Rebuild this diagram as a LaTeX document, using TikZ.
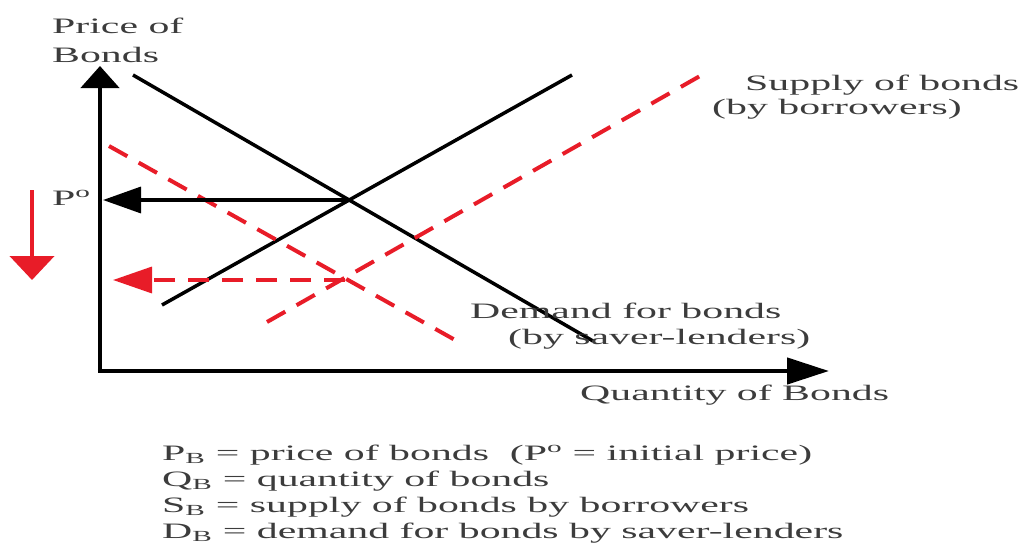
\documentclass[tikz,border=0pt]{standalone}
\usepackage{fontspec}
\setmainfont[FakeStretch=1.9]{Liberation Serif}
\usetikzlibrary{arrows.meta}
\definecolor{shiftred}{RGB}{232,28,40}
\definecolor{txt}{RGB}{60,60,60}
\tikzset{
  lbl/.style={anchor=base west, inner sep=0pt, text=txt, font=\fontsize{22}{26}\selectfont},
  axis/.style={line width=4.5pt, -{Triangle[length=22pt,width=38pt]}},
  curve/.style={line width=3.5pt, black},
  shifted/.style={line width=4pt, shiftred, dash pattern=on 21pt off 13pt},
}
\begin{document}
\begin{tikzpicture}[x=1pt,y=-1pt]
\useasboundingbox (0,0) rectangle (1035,554);
% axes
\coordinate (O) at (100,371);
\coordinate (Ytop) at (100,66);
\coordinate (Xend) at (829,371);
\draw[axis] (O) -- (Ytop);
\draw[line width=4.5pt, -{Triangle[length=42pt,width=26pt]}] (97.75,371) -- (Xend);
% original curves
\coordinate (D1) at (133,75);
\coordinate (D2) at (593,341);
\coordinate (S1) at (162,305);
\coordinate (S2) at (572,75);
\draw[curve] (D1) -- (D2);
\draw[curve] (S1) -- (S2);
% shifted curves
\coordinate (Dr1) at (109,146);
\coordinate (Dr2) at (464,345);
\coordinate (Sr1) at (267,322);
\coordinate (Sr2) at (700,76);
\draw[shifted] (Dr1) -- (Dr2);
\draw[shifted] (Sr1) -- (Sr2);
% equilibrium arrows
\coordinate (E0) at (350,200);
\coordinate (P0) at (103,200);
\draw[line width=3.5pt, -{Triangle[length=38pt,width=26pt]}] (E0) -- (P0);
\coordinate (E1) at (345,280);
\coordinate (P1) at (113,280);
\draw[line width=3.5pt, shiftred, dash pattern=on 21pt off 13pt, -{Triangle[length=39pt,width=26pt]}] (E1) -- (P1);
% red down arrow
\coordinate (R1) at (32,190);
\coordinate (R2) at (32,280);
\draw[line width=4.5pt, shiftred, -{Triangle[length=24pt,width=44pt]}] (R1) -- (R2);
% labels
\node[lbl] (yl1) at (52,33) {Price of};
\node[lbl] (yl2) at (52,62) {Bonds};
\node[lbl] (p0) at (52,205) {P\textsuperscript{o}};
\node[lbl] (s1) at (745,90) {Supply of bonds};
\node[lbl] (s2) at (712,114) {(by borrowers)};
\node[lbl] (d1) at (470,318) {Demand for bonds};
\node[lbl] (d2) at (508,344) {(by saver-lenders)};
\node[lbl] (xl) at (580,400) {Quantity of Bonds};
% legend
\node[lbl] (l1) at (162,460) {P\textsubscript{B} = price of bonds\ \ (P\textsuperscript{o} = initial price)};
\node[lbl] (l2) at (162,486) {Q\textsubscript{B} = quantity of bonds};
\node[lbl] (l3) at (162,512) {S\textsubscript{B} = supply of bonds by borrowers};
\node[lbl] (l4) at (162,538) {D\textsubscript{B} = demand for bonds by saver-lenders};
\end{tikzpicture}
\end{document}
